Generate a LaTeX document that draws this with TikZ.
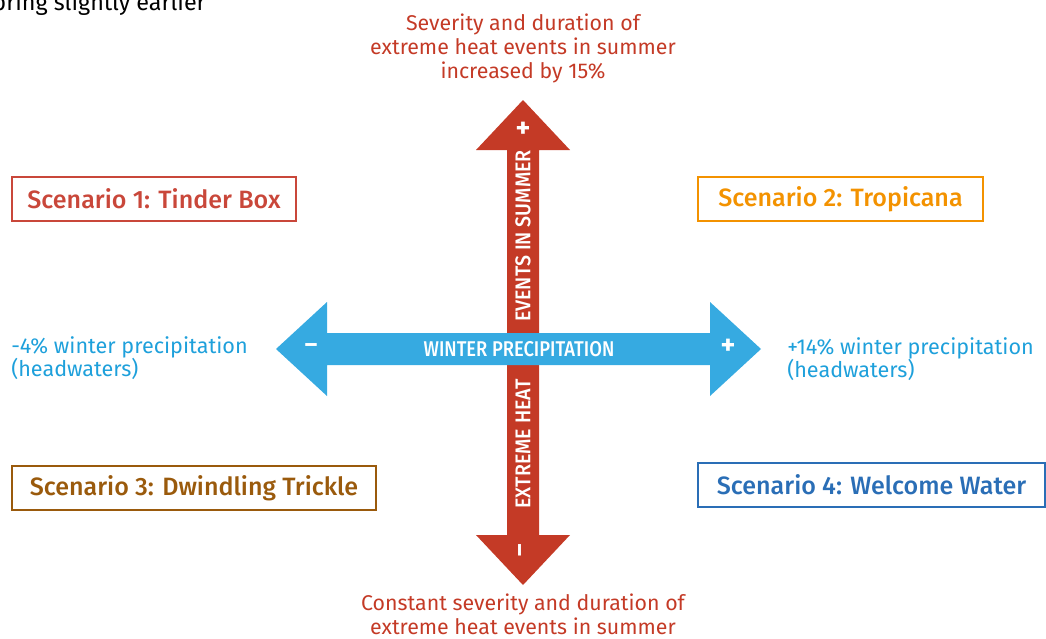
\documentclass[tikz,border=0pt]{standalone}
\usepackage{fontspec}
\setmainfont{Fira Sans}
\newfontfamily\medfont{Fira Sans}[UprightFont={* Medium}]
\definecolor{heatred}{HTML}{C43A26}
\definecolor{precipblue}{HTML}{36AAE1}
\definecolor{labelblue}{HTML}{1EA0DB}
\definecolor{tinder}{HTML}{C9473A}
\definecolor{tropic}{HTML}{F39200}
\definecolor{trickle}{HTML}{9A5A0C}
\definecolor{welcome}{HTML}{2A6EB6}
\tikzset{
  endtext/.style={text=heatred, align=center, font=\fontsize{16}{18}\selectfont, inner sep=0pt},
  sidetext/.style={text=labelblue, align=left, font=\fontsize{16.2}{17.5}\selectfont, inner sep=0pt},
  scenbox/.style={draw=#1, text=#1, line width=0.9pt, minimum height=33pt,
    font=\medfont\fontsize{18.8}{20}\selectfont, inner sep=0pt},
  axislabel/.style={text=white, font=\medfont\fontsize{16}{18}\selectfont, inner sep=0pt},
  signmark/.style={text=white, font=\bfseries\fontsize{21}{21}\selectfont, inner sep=0pt},
  dashmark/.style={text=white, font=\bfseries\fontsize{18}{18}\selectfont, inner sep=0pt}
}
\begin{document}
\begin{tikzpicture}[x=0.75pt,y=-0.75pt]
\useasboundingbox (0,0) rectangle (1046,639);
\clip (0,0) rectangle (1046,639);

% vertical axis: extreme heat
\fill[heatred] (507,150) -- (476,150) -- (523,100) -- (570,150) -- (539,150)
  -- (539,535) -- (570,535) -- (523,585) -- (476,535) -- (507,535) -- cycle;
% horizontal axis: winter precipitation
\fill[precipblue] (327,333) -- (327,302) -- (276,349) -- (327,396) -- (327,365)
  -- (710,365) -- (710,396) -- (761,349) -- (710,302) -- (710,333) -- cycle;

% axis labels
\node[axislabel] (wp) at (519,349) {\scalebox{0.86}[1]{WINTER PRECIPITATION}};
\node[axislabel, rotate=90] (eis) at (523,236) {\scalebox{0.92}[1]{EVENTS IN SUMMER}};
\node[axislabel, rotate=90] (eh) at (523,444) {\scalebox{0.92}[1]{EXTREME HEAT}};

% signs at the arrow heads
\node[signmark] (hplus) at (523,130) {+};
\node[dashmark, rotate=90] (hminus) at (523,550) {–};
\node[dashmark] (pminus) at (311,348) {–};
\node[signmark] (pplus) at (728,347) {+};

% end texts of the heat axis
\node[endtext] (top) at (523,48)
  {Severity and duration of\\extreme heat events in summer\\increased by 15\%};
\node[endtext, anchor=north] (bottom) at (523,594)
  {Constant severity and duration of\\extreme heat events in summer};

% end texts of the precipitation axis
\node[sidetext, anchor=west] (left) at (11,358)
  {-4\% winter precipitation\\(headwaters)};
\node[sidetext, anchor=west] (right) at (787,359)
  {+14\% winter precipitation\\(headwaters)};

% scenarios
\node[scenbox=tinder, minimum width=213pt] (s1) at (154,199)
  {Scenario 1: Tinder Box\hspace{8pt}};
\node[scenbox=tropic, minimum width=213.75pt] (s2) at (840.5,199)
  {Scenario 2: Tropicana\hspace{8pt}};
\node[scenbox=trickle, minimum width=273pt] (s3) at (194,488)
  {Scenario 3: Dwindling Trickle\hspace{8pt}};
\node[scenbox=welcome, minimum width=260.25pt] (s4) at (871.5,485)
  {Scenario 4: Welcome Water\hspace{6pt}};

% text running in from above
\node[anchor=base east, inner sep=0pt, font=\fontsize{17.5}{19}\selectfont] (note) at (206,11)
  {spring slightly earlier};
\end{tikzpicture}
\end{document}
